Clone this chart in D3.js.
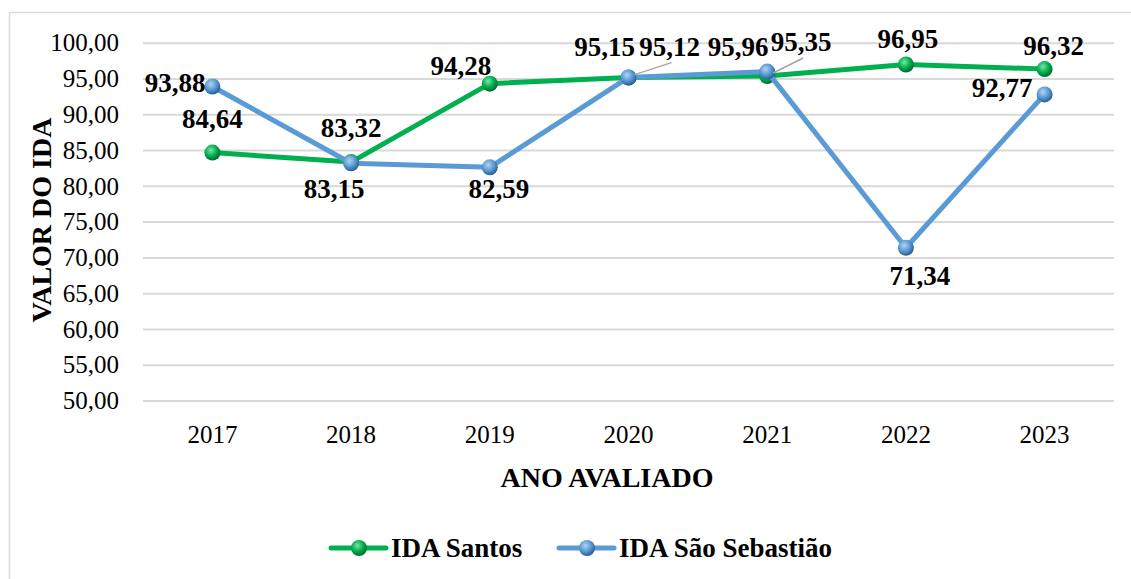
<!DOCTYPE html>
<html>
<head>
<meta charset="utf-8">
<script src="https://cdn.jsdelivr.net/npm/d3@7"></script>
<style>
  body { margin: 0; background: #fff; }
</style>
</head>
<body>
<svg id="chart" width="1131" height="579"></svg>
<script>
// data
var years = ["2017", "2018", "2019", "2020", "2021", "2022", "2023"];
var santos = [84.64, 83.32, 94.28, 95.12, 95.35, 96.95, 96.32];
var saoSebastiao = [93.88, 83.15, 82.59, 95.15, 95.96, 71.34, 92.77];
var yTicks = [50, 55, 60, 65, 70, 75, 80, 85, 90, 95, 100];

// where each data label sits relative to its point (hand placed in the original)
var santosLabelPos = [
  {dx: 0, dy: -25}, {dx: 0, dy: -25}, {dx: -29, dy: -9},
  {dx: 41, dy: -22, leader: true}, {dx: 34, dy: -25, leader: true},
  {dx: 2, dy: -17}, {dx: 9, dy: -14}
];
var ssLabelPos = [
  {dx: -7, dy: 6, anchor: "end"}, {dx: -17, dy: 35}, {dx: 9, dy: 31},
  {dx: -24, dy: -21}, {dx: -29, dy: -16}, {dx: 14, dy: 37},
  {dx: -12, dy: 3, anchor: "end"}
];

var FONT = "'Liberation Serif', 'Times New Roman', serif";
var svg = d3.select("#chart");
var fmt = function(v) { return v.toFixed(2).replace(".", ","); };

// outer frame of the chart area
svg.append("rect")
  .attr("x", 9.5).attr("y", 12.5)
  .attr("width", 1140).attr("height", 580)
  .attr("fill", "none").attr("stroke", "#d9d9d9").attr("stroke-width", 1.5);

var x = d3.scalePoint().domain(years).range([212.4, 1044.6]);
var y = d3.scaleLinear().domain([50, 100]).range([400.5, 42.7]);

// gradients for the sphere markers
var defs = svg.append("defs");
function sphere(id, light, mid, dark) {
  var g = defs.append("radialGradient").attr("id", id)
    .attr("cx", "40%").attr("cy", "35%").attr("r", "65%");
  g.append("stop").attr("offset", "0%").attr("stop-color", light);
  g.append("stop").attr("offset", "55%").attr("stop-color", mid);
  g.append("stop").attr("offset", "100%").attr("stop-color", dark);
}
sphere("gGreen", "#7fe3a8", "#00b050", "#006b2e");
sphere("gBlue", "#b4d3f0", "#5b9bd5", "#2a5e91");

// gridlines
svg.append("g")
  .attr("transform", "translate(143,0)")
  .call(d3.axisLeft(y).tickValues(yTicks).tickSize(-971).tickFormat(""))
  .call(function(g) {
    g.select(".domain").remove();
    g.selectAll("line").attr("stroke", "#d9d9d9").attr("stroke-width", 2);
  });

// y tick labels
svg.append("g").selectAll("text")
  .data(yTicks)
  .enter().append("text")
  .attr("x", 119).attr("y", function(d) { return y(d); })
  .attr("dy", "0.35em")
  .attr("text-anchor", "end")
  .attr("font-family", FONT).attr("font-size", 25)
  .text(fmt);

// x tick labels
svg.append("g").selectAll("text")
  .data(years)
  .enter().append("text")
  .attr("x", function(d) { return x(d); }).attr("y", 443)
  .attr("text-anchor", "middle")
  .attr("font-family", FONT).attr("font-size", 25)
  .text(function(d) { return d; });

// axis titles
svg.append("text")
  .attr("transform", "translate(41,220) rotate(-90)")
  .attr("text-anchor", "middle").attr("dy", "0.35em")
  .attr("font-family", FONT).attr("font-size", 28).attr("font-weight", "bold")
  .text("VALOR DO IDA");

svg.append("text")
  .attr("x", 607).attr("y", 487)
  .attr("text-anchor", "middle")
  .attr("font-family", FONT).attr("font-size", 28).attr("font-weight", "bold")
  .text("ANO AVALIADO");

var line = d3.line()
  .x(function(d, i) { return x(years[i]); })
  .y(function(d) { return y(d); });

var series = [
  {name: "IDA Santos", values: santos, color: "#00b050", grad: "gGreen", pos: santosLabelPos},
  {name: "IDA São Sebastião", values: saoSebastiao, color: "#5b9bd5", grad: "gBlue", pos: ssLabelPos}
];

series.forEach(function(s) {
  svg.append("path")
    .datum(s.values)
    .attr("d", line)
    .attr("fill", "none")
    .attr("stroke", s.color)
    .attr("stroke-width", 5)
    .attr("stroke-linejoin", "round");

  svg.append("g").selectAll("circle")
    .data(s.values)
    .enter().append("circle")
    .attr("cx", function(d, i) { return x(years[i]); })
    .attr("cy", function(d) { return y(d); })
    .attr("r", 8)
    .attr("fill", "url(#" + s.grad + ")");
});

// data labels (drawn after all lines so nothing covers them)
series.forEach(function(s) {
  s.values.forEach(function(v, i) {
    var p = s.pos[i];
    var px = x(years[i]), py = y(v);
    if (p.leader) {
      var dir = p.dx > 0 ? 1 : -1;
      svg.append("line")
        .attr("x1", px + dir * 6).attr("y1", py - 3)
        .attr("x2", px + p.dx + 2).attr("y2", py + p.dy + 7)
        .attr("stroke", "#a6a6a6").attr("stroke-width", 1.5);
    }
    svg.append("text")
      .attr("x", px + p.dx).attr("y", py + p.dy)
      .attr("text-anchor", p.anchor || "middle")
      .attr("font-family", FONT).attr("font-size", 27).attr("font-weight", "bold")
      .text(fmt(v));
  });
});

// legend
var legend = svg.append("g").attr("transform", "translate(0,548)");
var legendX = [331, 559];
series.forEach(function(s, i) {
  var g = legend.append("g").attr("transform", "translate(" + legendX[i] + ",0)");
  g.append("line").attr("x1", 0).attr("x2", 55)
    .attr("stroke", s.color).attr("stroke-width", 5).attr("stroke-linecap", "round");
  g.append("circle").attr("cx", 28).attr("r", 8).attr("fill", "url(#" + s.grad + ")");
  g.append("text").attr("x", 60).attr("dy", "0.35em")
    .attr("font-family", FONT).attr("font-size", 27).attr("font-weight", "bold")
    .text(s.name);
});
</script>
</body>
</html>
